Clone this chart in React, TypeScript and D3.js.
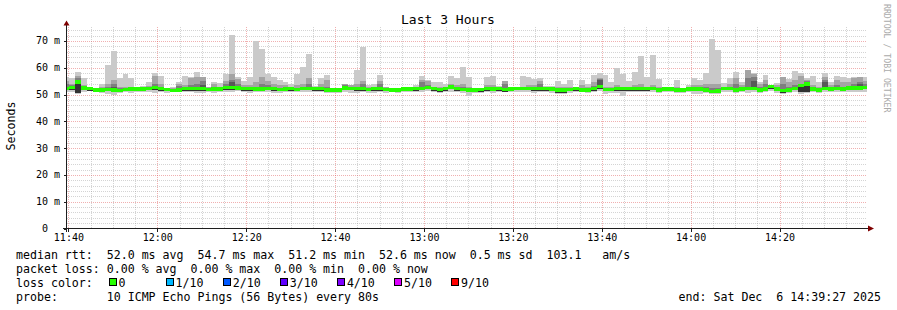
import React from "react";
import * as d3 from "d3";

// ---- data ----
const STEP_START = new Date(2025, 11, 6, 11, 38, 51);
const STEP_SECONDS = 80;
const DOMAIN_START = new Date(2025, 11, 6, 11, 39, 41);
const DOMAIN_END = new Date(2025, 11, 6, 14, 39, 41);

const medianRtt = [
  52.3, 52.7, 54.7, 52.4, 52.2, 51.7, 51.7, 51.8, 51.7, 51.5,
  51.9, 52.1, 52.1, 52.1, 52.3, 52.6, 52.2, 51.8, 51.6, 51.7,
  52.2, 52.2, 52.2, 52.2, 51.9, 52.0, 52.1, 52.6, 52.6, 52.4,
  52.2, 52.2, 52.1, 52.1, 52.3, 52.2, 51.8, 52.0, 52.2, 51.8,
  52.3, 52.3, 52.2, 52.2, 51.7, 51.7, 51.7, 52.4, 52.3, 52.2,
  52.2, 51.8, 52.2, 52.2, 51.9, 51.7, 51.7, 52.0, 52.0, 52.2,
  52.3, 52.7, 52.2, 51.8, 52.2, 52.8, 52.2, 51.9, 51.7, 51.7,
  51.8, 52.2, 52.0, 52.2, 51.8, 52.0, 52.3, 52.3, 52.3, 52.2,
  52.2, 52.2, 52.0, 51.7, 51.7, 51.9, 52.2, 51.7, 51.7, 52.2,
  52.9, 51.9, 51.9, 52.2, 52.2, 52.2, 52.2, 52.2, 52.2, 52.3,
  51.7, 52.0, 52.0, 51.7, 51.7, 52.0, 52.0, 52.0, 51.7, 51.2,
  51.3, 52.3, 52.3, 51.7, 52.0, 52.3, 52.3, 51.7, 52.0, 52.9,
  52.0, 51.4, 51.7, 52.3, 53.3, 54.0, 52.0, 51.7, 52.3, 52.0,
  52.3, 52.0, 52.5, 52.5, 52.5, 52.6,
];

const pingMax = [
  56.4, 56.0, 58.5, 56.0, 52.9, 52.5, 53.9, 61.0, 66.4, 56.0,
  57.6, 56.0, 52.5, 53.3, 54.8, 57.9, 56.9, 52.5, 52.9, 54.5,
  57.0, 56.6, 58.6, 56.7, 52.7, 54.5, 54.2, 57.6, 72.2, 56.6,
  55.1, 56.6, 70.1, 67.0, 57.6, 56.6, 55.4, 54.8, 53.9, 57.6,
  60.1, 65.1, 53.3, 56.0, 57.3, 52.0, 52.5, 53.9, 53.5, 59.1,
  67.9, 53.5, 53.9, 57.3, 52.8, 52.5, 52.5, 52.3, 52.5, 53.5,
  57.0, 55.4, 54.5, 54.5, 53.9, 57.0, 56.0, 60.4, 56.6, 52.2,
  52.5, 56.6, 57.0, 53.3, 55.1, 52.8, 52.5, 57.0, 56.6, 55.7,
  56.0, 53.3, 53.3, 55.1, 53.9, 55.4, 52.5, 55.4, 53.9, 57.3,
  58.0, 57.3, 54.5, 59.9, 57.6, 55.1, 58.3, 64.3, 56.7, 64.8,
  55.7, 52.9, 52.9, 55.4, 52.3, 53.5, 56.0, 55.4, 57.9, 70.7,
  66.6, 54.2, 56.3, 58.3, 54.8, 59.1, 57.9, 54.5, 57.3, 53.2,
  54.2, 56.6, 55.8, 58.8, 58.1, 56.0, 56.9, 54.8, 58.1, 54.8,
  56.9, 56.6, 56.3, 56.6, 56.6, 56.6,
];

const ping9 = [
  55, 54, 57, 53.5, 52.8, 52.5, 52.8, 54, 55.3, 53,
  53, 53, 52.5, 52.8, 53.2, 57, 54, 52.5, 52.6, 54,
  53.5, 56, 56.6, 56.5, 52.7, 54, 53, 55, 57.5, 55.8,
  53.5, 53.5, 54.5, 56.6, 55, 54, 53.5, 53.5, 53, 53.5,
  54, 56, 53, 54, 55.5, 52, 52.5, 54, 53.5, 54,
  55, 53, 53, 55, 52.8, 52.5, 52.5, 52.3, 52.5, 53,
  55.5, 55, 53, 53, 53, 54, 53.5, 54, 53, 52.2,
  52.5, 53.5, 53.5, 53, 55, 52.8, 52.5, 53, 53.5, 53.5,
  55, 53, 53, 53, 52.8, 53, 52.5, 53.5, 53, 54.5,
  56, 53, 53, 53.5, 53, 53, 53.5, 54, 53, 53.5,
  53, 52.9, 52.9, 53, 52.3, 53, 53.5, 53.5, 54, 54,
  54, 53, 54, 56, 53.5, 59, 57.5, 54, 55.4, 53.2,
  53.5, 56.6, 54.5, 55.5, 57, 55.5, 53.5, 53, 56.5, 53.5,
  55.4, 54.5, 54.8, 56, 56.6, 55,
];

const ping8 = [
  54, 53.5, 56, 52.8, 52.5, 52.2, 52.3, 53, 54, 52.5,
  52.5, 52.6, 52.4, 52.5, 52.8, 54, 53, 52.3, 52.2, 53.3,
  52.8, 53.5, 54, 55, 52.4, 53, 52.6, 53.8, 55.5, 54,
  52.8, 52.8, 53, 54, 53.5, 53, 52.5, 52.6, 52.7, 52.5,
  53, 54, 52.7, 53, 53, 52, 52.2, 53.5, 53, 53,
  53.8, 52.5, 52.7, 54, 52.4, 52.2, 52.2, 52.3, 52.4, 52.7,
  54.5, 53.5, 52.7, 52.4, 52.7, 53.3, 52.8, 52.7, 52.3, 52.2,
  52.3, 52.8, 52.6, 52.7, 54, 52.5, 52.5, 52.8, 52.9, 52.8,
  54, 52.7, 52.5, 52.4, 52.4, 52.5, 52.5, 52.5, 52.4, 53.2,
  55.7, 52.5, 52.5, 52.8, 52.7, 52.7, 52.8, 53, 52.7, 52.8,
  52.4, 52.5, 52.5, 52.4, 52.2, 52.5, 52.6, 52.6, 52.8, 52.5,
  52.5, 52.7, 53, 54, 52.6, 56, 56.5, 52.7, 54, 53.2,
  52.7, 54, 53, 53.5, 54, 55, 52.7, 52.4, 55.4, 52.8,
  53.5, 53, 53.3, 54, 54.8, 53.8,
];

const ping7 = [
  52.9, 53, 55.5, 52.6, 52.4, 51.9, 52, 52.5, 53, 51.8,
  52.2, 52.3, 52.3, 52.3, 52.5, 53, 52.5, 52, 51.8, 52.2,
  52.5, 52.6, 53, 53.5, 52.1, 52.3, 52.3, 53, 54.5, 53,
  52.5, 52.4, 52.4, 52.6, 52.7, 52.5, 52.1, 52.2, 52.4, 52,
  52.5, 52.8, 52.4, 52.5, 52, 51.8, 51.9, 53, 52.6, 52.5,
  52.6, 52.1, 52.4, 52.8, 52.1, 51.9, 51.9, 52.2, 52.2, 52.4,
  53, 53, 52.4, 52, 52.4, 53, 52.4, 52.2, 51.9, 51.9,
  52, 52.4, 52.2, 52.4, 52.5, 52.2, 52.4, 52.5, 52.5, 52.4,
  52.8, 52.4, 52.2, 51.9, 51.9, 52.1, 52.4, 51.9, 51.9, 52.5,
  55.5, 52.1, 52.1, 52.4, 52.4, 52.4, 52.4, 52.5, 52.4, 52.5,
  51.9, 52.2, 52.2, 51.9, 51.9, 52.2, 52.2, 52.2, 52, 51.6,
  51.6, 52.5, 52.5, 52.2, 52.2, 53, 55, 51.9, 52.5, 53.1,
  52.2, 51.8, 52, 52.6, 53.8, 54.8, 52.2, 51.9, 54.5, 52.2,
  52.6, 52.3, 52.8, 52.8, 54, 52.9,
];

const ping4 = [
  51.6, 51.8, 50.5, 51.7, 51.5, 51.1, 51.1, 51.2, 51, 50.9,
  51.3, 51.4, 51.4, 51.5, 51.6, 51.8, 51.5, 51.2, 51, 51.1,
  51.5, 51.5, 51.4, 51.3, 51.3, 51.3, 51.4, 51.8, 51.6, 51.7,
  51.5, 51.4, 51.4, 51.4, 51.6, 51.5, 51.2, 51.3, 51.5, 51.2,
  51.6, 51.6, 51.5, 51.5, 51, 51, 51.1, 51.7, 51.6, 51.5,
  51.5, 51.2, 51.5, 51.5, 51.2, 51.1, 51.1, 51.3, 51.3, 51.5,
  51.6, 52, 51.5, 51.1, 51.5, 52, 51.5, 51.2, 51, 51,
  51.1, 51.5, 51.3, 51.5, 51.1, 51.3, 51.6, 51.6, 51.6, 51.5,
  51.5, 51.5, 51.3, 50.4, 50.4, 51.2, 51.5, 51, 51, 51.5,
  52, 51.2, 51.2, 51.5, 51.5, 51.5, 51.5, 51.5, 51.5, 51.6,
  51, 51.3, 51.3, 51, 51, 51.3, 51.3, 51.3, 51, 50.6,
  50.6, 51.6, 51.6, 51, 51.3, 51.6, 51.6, 51, 51.3, 52.2,
  51.3, 50.7, 51, 51.6, 51, 51, 51.3, 51, 51.6, 51.3,
  51.6, 51.3, 51.8, 51.8, 51.8, 51.9,
];

const pingMin = [
  51, 50.8, 50.3, 51, 51.2, 50.9, 50.5, 50.3, 50, 50.6,
  50.8, 50.5, 50.9, 51, 51, 50.6, 51, 50.6, 50.8, 50.9,
  50.9, 51, 50.7, 50.6, 50.9, 50.5, 50.8, 50.9, 51, 51.2,
  50.8, 50.5, 51, 51, 50.9, 50.5, 50.5, 50.8, 50.9, 50.8,
  51, 51, 51, 50.9, 50.6, 50.7, 50.7, 50.8, 50.5, 50.7,
  50.9, 50.6, 50.7, 50.8, 50.6, 50.8, 50.7, 51, 51, 50.8,
  51, 51.2, 50.9, 50.5, 50.8, 51.1, 50.8, 50.4, 49.5, 50.5,
  50.6, 50.9, 50.7, 51, 50.8, 50.9, 51, 51, 50.8, 50.6,
  51, 50.8, 50.6, 50.2, 50.2, 50.6, 51, 50.8, 50.5, 51,
  51.3, 50.2, 50.5, 50.6, 49.3, 51, 50.9, 50.8, 51, 51,
  50.6, 50.8, 50.8, 50.4, 50.7, 50.8, 50.2, 50.3, 50.6, 50.2,
  50.2, 50.9, 51, 50.6, 50.8, 50.6, 50.8, 50.5, 50.8, 51.5,
  50.6, 50.2, 50.4, 50.8, 50.3, 50.6, 50.8, 50.6, 50.8, 50.8,
  50.9, 50.8, 51, 51, 51, 51,
];

const yTickValues = [0, 10, 20, 30, 40, 50, 60, 70];
const lossLabels = ["0", "1/10", "2/10", "3/10", "4/10", "5/10", "9/10"];
const lossColors = ["#26ff00", "#00b8ff", "#0059ff", "#5e00ff", "#7e00ff", "#dd00ff", "#ff0000"];
const smokeColors = ["#cacaca", "#a4a4a4", "#7e7e7e", "#585858", "#323232"];

const titleText = "Last 3 Hours";
const yAxisLabel = "Seconds";
const sideText = "RRDTOOL / TOBI OETIKER";
const legendLines = [
  "median rtt:  52.0 ms avg  54.7 ms max  51.2 ms min  52.6 ms now  0.5 ms sd  103.1   am/s",
  "packet loss: 0.00 % avg  0.00 % max  0.00 % min  0.00 % now",
  "loss color:",
  "probe:       10 ICMP Echo Pings (56 Bytes) every 80s",
];
const endText = "end: Sat Dec  6 14:39:27 2025";

// ---- layout ----
const W = 897;
const H = 310;
const X0 = 67;
const X1 = 867;
const Y0 = 228.5;
const YTOP = 26.5;
const MONO = "'DejaVu Sans Mono', monospace";

export default function App() {
  const x = d3.scaleTime().domain([DOMAIN_START, DOMAIN_END]).range([X0, X1]);
  const y = d3.scaleLinear().domain([0, 75.4]).range([Y0, YTOP]);

  const steps = medianRtt.map((m, i) => {
    const t0 = new Date(STEP_START.getTime() + i * STEP_SECONDS * 1000);
    const t1 = new Date(t0.getTime() + STEP_SECONDS * 1000);
    return { i, t0, t1, m };
  });

  const bands = [
    { lo: pingMin, hi: pingMax },
    { lo: ping4, hi: ping9 },
    { lo: ping4, hi: ping8 },
    { lo: ping4, hi: ping7 },
    { lo: ping4, hi: medianRtt },
  ];

  const majorTimes = d3.timeMinute.every(20)!.range(DOMAIN_START, DOMAIN_END);
  const minorTimes = d3.timeMinute.every(5)!.range(DOMAIN_START, DOMAIN_END);
  const fmt = d3.timeFormat("%H:%M");
  const minorY = d3.range(0, 76, 2).filter((v) => v % 10 !== 0 && y(v) >= YTOP);

  const gridGrey = "rgba(143,143,143,0.38)";
  const gridRed = "rgba(222,80,80,0.45)";
  const px = (v: number) => Math.round(v) + 0.5;

  return (
    <svg
      width={W}
      height={H}
      style={{ position: "absolute", left: 0, top: 0, background: "#fff" }}
      xmlns="http://www.w3.org/2000/svg"
    >
      <rect x={0} y={0} width={W} height={H} fill="#fff" />
      <defs>
        <clipPath id="plot">
          <rect x={X0} y={YTOP} width={X1 - X0} height={Y0 - YTOP} />
        </clipPath>
      </defs>

      {/* grid (behind the data) */}
      <g strokeWidth={1} strokeDasharray="1,1" shapeRendering="crispEdges">
        {minorY.map((v) => (
          <line key={`my${v}`} x1={X0} x2={X1} y1={px(y(v))} y2={px(y(v))} stroke={gridGrey} />
        ))}
        {minorTimes
          .filter((t) => t.getMinutes() % 20 !== 0)
          .map((t) => (
            <line key={`mx${t.getTime()}`} x1={px(x(t))} x2={px(x(t))} y1={YTOP} y2={Y0} stroke={gridGrey} />
          ))}
        {yTickValues.slice(1).map((v) => (
          <line key={`My${v}`} x1={X0} x2={X1} y1={px(y(v))} y2={px(y(v))} stroke={gridRed} />
        ))}
        {majorTimes.map((t) => (
          <line key={`Mx${t.getTime()}`} x1={px(x(t))} x2={px(x(t))} y1={YTOP} y2={Y0} stroke={gridRed} />
        ))}
      </g>

      {/* smoke */}
      <g clipPath="url(#plot)" shapeRendering="crispEdges">
        {bands.map((b, bi) =>
          steps.map((s) => {
            const top = y(b.hi[s.i]);
            const bot = y(b.lo[s.i]);
            const h = bot - top;
            if (h <= 0) return null;
            return (
              <rect
                key={`b${bi}-${s.i}`}
                x={x(s.t0)}
                width={x(s.t1) - x(s.t0)}
                y={top}
                height={h}
                fill={smokeColors[bi]}
              />
            );
          })
        )}
      </g>

      {/* median line coloured by loss */}
      <g clipPath="url(#plot)" shapeRendering="crispEdges">
        {steps.map((s) => (
          <rect
            key={`m${s.i}`}
            x={x(s.t0)}
            width={x(s.t1) - x(s.t0)}
            y={y(s.m) - 1.7}
            height={3.4}
            fill={lossColors[0]}
          />
        ))}
      </g>

      {/* axes */}
      <g stroke="#1e1e1e" strokeWidth={1} shapeRendering="crispEdges">
        <line x1={X0 - 4} x2={X1 + 2} y1={Y0} y2={Y0} />
        <line x1={X0 - 0.5} x2={X0 - 0.5} y1={Y0 + 3} y2={YTOP - 2} />
        {yTickValues.map((v) => (
          <line key={`ty${v}`} x1={X0 - 3} x2={X0} y1={px(y(v))} y2={px(y(v))} />
        ))}
        {majorTimes.map((t) => (
          <line key={`tx${t.getTime()}`} x1={px(x(t))} x2={px(x(t))} y1={Y0} y2={Y0 + 3} />
        ))}
      </g>
      <path d={`M${X0 - 3.5},${YTOP - 1} L${X0 + 2.5},${YTOP - 1} L${X0 - 0.5},${YTOP - 6} Z`} fill="#7f0000" />
      <path d={`M${X1 + 1},${Y0 - 3} L${X1 + 1},${Y0 + 3} L${X1 + 7},${Y0} Z`} fill="#7f0000" />

      {/* tick labels */}
      <g fontFamily={MONO} fontSize={10} fill="#000">
        {yTickValues.map((v) => (
          <text key={`ly${v}`} x={v === 0 ? 48 : 60} y={y(v) + 3.5} textAnchor="end">
            {v === 0 ? "0" : `${v} m`}
          </text>
        ))}
        {majorTimes.map((t) => (
          <text key={`lx${t.getTime()}`} x={x(t) + 0.5} y={241} textAnchor="middle">
            {fmt(t)}
          </text>
        ))}
      </g>

      {/* title and axis label */}
      <text x={448} y={24} textAnchor="middle" fontFamily={MONO} fontSize={13} fill="#000">
        {titleText}
      </text>
      <text
        transform={`translate(15,126) rotate(-90)`}
        textAnchor="middle"
        fontFamily={MONO}
        fontSize={11.6}
        fill="#000"
      >
        {yAxisLabel}
      </text>
      <text
        transform={`translate(884,4) rotate(90)`}
        textAnchor="start"
        fontFamily={MONO}
        fontSize={8.2}
        fill="#aaaaaa"
      >
        {sideText}
      </text>

      {/* legend */}
      <g fontFamily={MONO} fontSize={11.6} fill="#000" style={{ whiteSpace: "pre" }}>
        {legendLines.map((l, i) => (
          <text key={`lg${i}`} x={16} y={258.5 + i * 14} xmlSpace="preserve">
            {l}
          </text>
        ))}
        <text x={881} y={300.5} textAnchor="end" xmlSpace="preserve">
          {endText}
        </text>
        {lossLabels.map((lab, i) => {
          const bx = 108.5 + i * 57.1;
          return (
            <g key={`ll${i}`}>
              <rect x={Math.round(bx) + 0.5} y={278.5} width={7} height={7} fill={lossColors[i]} stroke="#000" strokeWidth={1} shapeRendering="crispEdges" />
              <text x={bx + 10} y={286.5}>
                {lab}
              </text>
            </g>
          );
        })}
      </g>
    </svg>
  );
}
